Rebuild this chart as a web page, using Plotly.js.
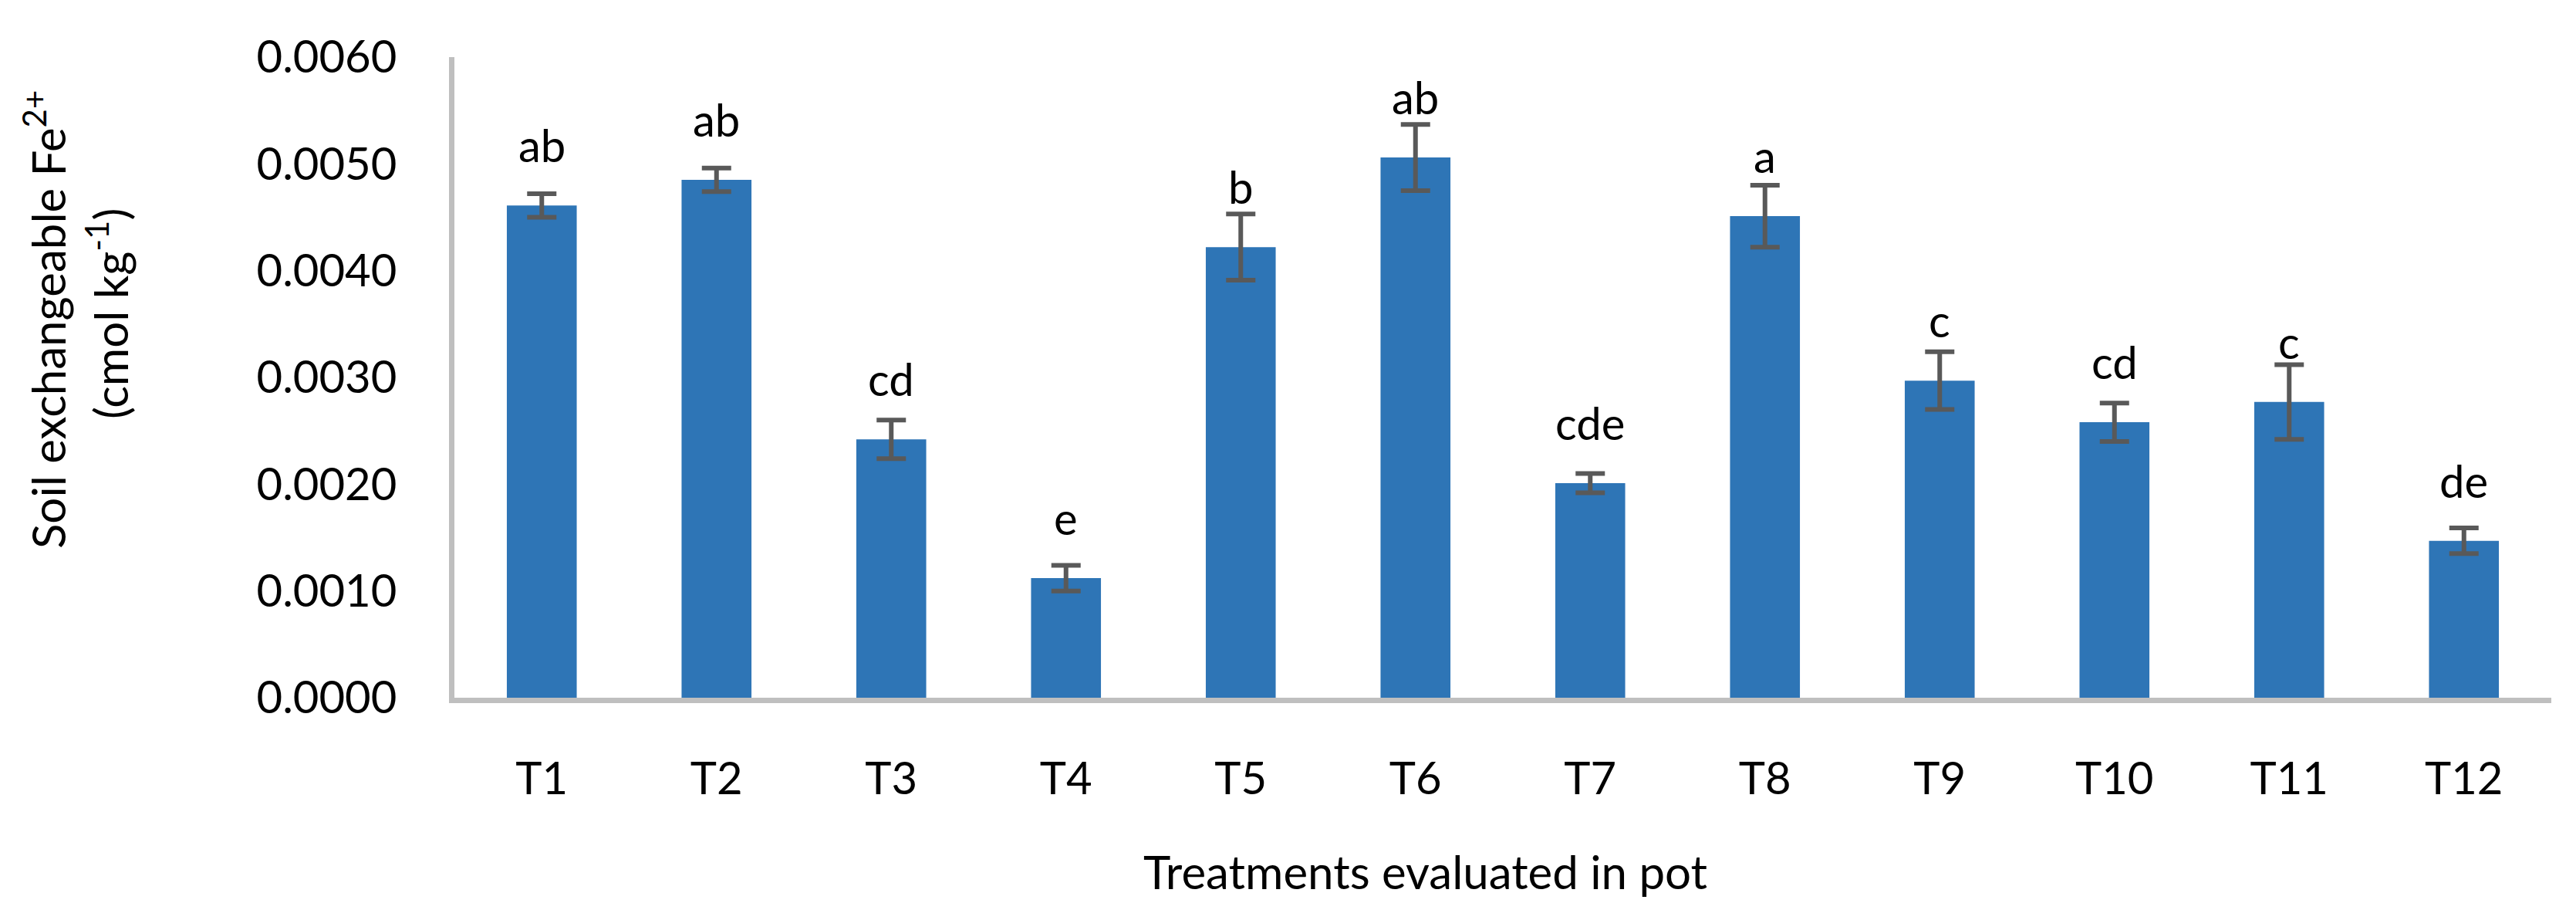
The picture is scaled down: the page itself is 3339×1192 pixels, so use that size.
<!DOCTYPE html>
<html>
<head>
<meta charset="utf-8">
<script src="https://cdn.plot.ly/plotly-3.0.1.min.js"></script>
<style>html,body{margin:0;padding:0;background:#fff;}#chart{width:3339px;height:1192px;}</style>
</head>
<body>
<div id="chart"></div>
<script>
const categories = ["T1","T2","T3","T4","T5","T6","T7","T8","T9","T10","T11","T12"];
const values = [0.00461,0.00485,0.00242,0.00112,0.00422,0.00506,0.00201,0.00451,0.00297,0.00258,0.00277,0.00147];
const errors = [0.00011,0.00011,0.00018,0.00012,0.00031,0.00031,0.00009,0.00029,0.00027,0.00018,0.00035,0.00012];
const letters = ["ab","ab","cd","e","b","ab","cde","a","c","cd","c","de"];
const yTicks = [0,0.001,0.002,0.003,0.004,0.005,0.006];
const yTickText = ["0.0000","0.0010","0.0020","0.0030","0.0040","0.0050","0.0060"];

const FONT = "Lato, 'Open Sans', sans-serif";
const FS = 58;

const PL = 589, PR = 3307, PT = 74, PB = 904;
const PW = PR - PL, PH = PB - PT;

const trace = {
  type: "bar",
  x: categories,
  y: values,
  marker: {color: "#2E75B6"},
  error_y: {type: "data", array: errors, visible: true, color: "#595959", thickness: 6, width: 19},
  hoverinfo: "none"
};

const annotations = categories.map((c, i) => ({
  x: c, y: values[i], xref: "x", yref: "y",
  text: letters[i], showarrow: false,
  xanchor: "center", yanchor: "bottom", yshift: 42,
  font: {family: FONT, size: FS, color: "#000"}
}));

annotations.push({
  xref: "paper", yref: "paper", x: (58 - PL) / PW, y: (PB - 414) / PH,
  text: "Soil exchangeable Fe<sup>2+</sup>", textangle: -90, showarrow: false,
  xanchor: "center", yanchor: "middle",
  font: {family: FONT, size: 60, color: "#000"}
});
annotations.push({
  xref: "paper", yref: "paper", x: (140 - PL) / PW, y: (PB - 407) / PH,
  text: "(cmol kg<sup>-1</sup>)", textangle: -90, showarrow: false,
  xanchor: "center", yanchor: "middle",
  font: {family: FONT, size: 60, color: "#000"}
});
annotations.push({
  xref: "paper", yref: "paper", x: (1847 - PL) / PW, y: (PB - 1129) / PH,
  text: "Treatments evaluated in pot", showarrow: false,
  xanchor: "center", yanchor: "middle",
  font: {family: FONT, size: 60, color: "#000"}
});

const layout = {
  width: 3339, height: 1192,
  margin: {l: PL, r: 3339 - PR, t: PT, b: 1192 - PB, pad: 0},
  paper_bgcolor: "#ffffff", plot_bgcolor: "#ffffff",
  showlegend: false,
  bargap: 0.6,
  font: {family: FONT, size: FS, color: "#000"},
  xaxis: {
    type: "category",
    showline: true, linecolor: "#BFBFBF", linewidth: 7,
    showgrid: false, zeroline: false,
    ticks: "outside", ticklen: 48, tickcolor: "rgba(0,0,0,0)",
    tickfont: {family: FONT, size: FS, color: "#000"}
  },
  yaxis: {
    range: [0, 0.006],
    tickvals: yTicks, ticktext: yTickText,
    showline: true, linecolor: "#BFBFBF", linewidth: 7,
    showgrid: false, zeroline: false,
    ticks: "outside", ticklen: 56, tickcolor: "rgba(0,0,0,0)",
    tickfont: {family: FONT, size: FS, color: "#000"}
  },
  annotations: annotations
};

Plotly.newPlot("chart", [trace], layout, {staticPlot: true, displayModeBar: false});
</script>
</body>
</html>
